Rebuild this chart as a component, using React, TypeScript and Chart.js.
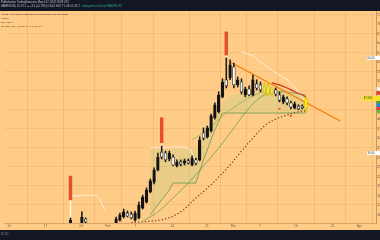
import React, { useEffect, useRef } from "react";
import { Chart, registerables } from "chart.js";

Chart.register(...registerables);

// ---- header / legend text ----
const HEADER_LINE_1 = "Published on TradingView.com, March 27, 2022 18:08 UTC";
const HEADER_LINE_2 = "WAVESUSD, 1D 47.2 \u25B2 +3.0 (+6.79%) O:44.2 H:47.7 L:43.0 C:47.2";
const HEADER_LINK = "tradingview.com/chart/WAVESUSD";
const SYMBOL_TITLE = "Waves / U.S. Dollar (calculated by TradingView), 1D, BINANCE";
const STUDY_LINES = ["Volume", "EMA (21, 9)", "ind_SMI_MTF_V21 20, 7, 1, 2, 20, 1, 1"];
const FOOTER_TEXT = "1D 5D";

// ---- daily candles (slot index on the time axis) ----
const CANDLE_IDX = [
  17, 20, 21,
  29, 30, 31, 32, 33, 34, 35, 36, 37, 38, 39, 40, 41, 42, 43, 44, 45, 46, 47, 48, 49, 50,
  51, 52, 53, 54, 55, 56, 57, 58, 59, 60, 61, 62, 63, 64, 65, 66, 67, 68, 69, 70, 71, 72,
  73, 74, 75, 76, 77, 78, 79,
];
const OPEN = [
  8.0, 8.0, 9.2, 8.0, 8.8, 9.8, 11.0, 10.7, 8.8, 9.5, 12.6, 14.5, 17.7, 20.8, 24.6, 30.3, 30.0,
  28.1, 28.7, 25.9, 27.2, 26.8, 27.5, 26.2, 27.8, 27.8, 36.3, 35.1, 37.0, 41.1, 43.0, 47.7, 53.1,
  53.7, 57.2, 51.5, 52.4, 48.3, 50.2, 48.3, 51.8, 51.5, 49.0, 51.2, 48.6, 49.9, 48.3, 46.1, 47.1,
  45.8, 44.2, 44.8, 44.8, 44.2,
];
const HIGH = [
  9.5, 11.4, 9.5, 9.8, 11.0, 12.3, 11.7, 11.4, 11.7, 14.5, 16.7, 19.0, 21.8, 25.3, 30.0, 32.2,
  30.6, 30.6, 29.4, 27.8, 27.8, 28.1, 28.1, 29.1, 28.4, 35.1, 37.9, 38.5, 42.3, 45.8, 49.3, 53.4,
  60.0, 59.4, 58.4, 54.0, 53.4, 50.8, 51.2, 54.6, 53.1, 52.4, 52.1, 52.4, 50.8, 50.5, 49.3, 48.3,
  47.7, 46.4, 46.1, 45.2, 45.2, 47.7,
];
const LOW = [
  8.0, 8.0, 8.0, 8.0, 8.5, 9.5, 9.8, 9.2, 8.5, 9.2, 12.3, 14.2, 17.4, 20.2, 24.3, 28.1, 27.2,
  27.5, 25.9, 25.6, 25.9, 26.2, 26.5, 25.9, 26.2, 27.5, 34.1, 34.7, 36.6, 40.7, 42.6, 47.4, 50.5,
  53.1, 50.5, 50.8, 48.6, 47.7, 48.0, 48.0, 49.9, 49.3, 48.3, 48.0, 48.0, 48.0, 46.1, 45.5, 45.2,
  43.9, 43.9, 43.6, 43.9, 43.0,
];
const CLOSE = [
  8.8, 9.8, 8.2, 9.2, 10.4, 11.4, 10.1, 9.5, 11.0, 13.6, 16.1, 18.3, 21.2, 24.6, 28.7, 28.7, 27.8,
  30.0, 26.2, 27.2, 26.5, 27.5, 26.8, 28.4, 26.8, 34.1, 34.7, 37.9, 41.7, 45.2, 48.3, 52.4, 51.2,
  57.8, 51.5, 53.1, 49.3, 50.2, 48.3, 53.1, 50.5, 49.9, 51.2, 48.6, 50.5, 48.6, 46.7, 47.7, 45.8,
  44.5, 45.5, 43.9, 44.2, 47.2,
];
// bars painted by the squeeze study
const HIGHLIGHT_IDX = [68, 69, 70, 79];

// pump markers above candles
const SPIKE_IDX = [17, 41, 58];
const SPIKE_LOW = [15.2, 33.2, 60.9];
const SPIKE_HIGH = [22.7, 41.1, 68.2];

// ---- overlay studies: [slot, price] ----
const BAND_UPPER: [number, number][] = [
  [38, 31.6], [50, 31.6], [53, 37.3], [56, 44.0], [59, 48.0], [64, 49.0], [68, 49.3], [72, 49.3], [76, 48.9], [79, 48.3],
];
const BAND_LOWER: [number, number][] = [
  [38, 10.5], [40, 13.6], [43, 18.3], [44, 20.5], [50, 20.5], [52, 27.8], [55, 37.3], [57, 42.6], [79, 42.6],
];
const EMA_SLOW: [number, number][] = [
  [36, 8.5], [40, 11.4], [44, 15.8], [48, 20.5], [52, 25.9], [56, 31.6], [60, 37.9], [64, 44.2], [68, 48.3], [72, 49.3], [76, 48.9], [79, 48.3],
];
const EMA_FAST: [number, number][] = [
  [49, 34.1], [53, 37.3], [57, 41.7], [61, 45.2], [65, 48.0], [68, 49.6],
];
const DOTTED: [number, number][] = [
  [33, 8.0], [38, 8.5], [42, 9.2], [46, 11.4], [50, 15.8], [53, 18.9], [56, 22.4], [59, 26.2],
  [62, 30.6], [65, 34.7], [68, 38.5], [71, 40.7], [74, 42.0], [77, 43.0], [79, 43.3],
];
const TRAIL: [number, number | null][] = [
  [17, 16.4], [24, 16.4], [26, 12.0], [27, null],
  [38, 31.6], [48, 31.6], [50, 27.0], [51, null],
  [62, 61.9], [65, 60.6], [68, 57.8], [71, 55.3], [74, 53.1], [77, 49.3], [79, 45.8],
];
const TREND_LINE: [number, number][] = [[59, 58.7], [88, 40.1]];
const RED_CURVE: [number, number][] = [[70, 52.1], [72, 51.5], [74, 50.5], [76, 49.3], [78, 48.3], [79, 47.7]];
const SIGNALS: [number, number][] = [[72, 43.9], [75, 41.7]];

// ---- axes ----
const TIME_TICK_POS = [0.8, 10.4, 19.8, 26.8, 34.1, 43.8, 52.9, 59.9, 66.9, 76.3, 86.0, 93.0];
const TIME_TICK_TEXT = ["10", "17", "24", "Feb", "7", "14", "21", "Mar", "7", "14", "21", "Apr"];
const PRICE_TICKS = [
  10.6, 13.6, 16.6, 19.6, 22.6, 25.6, 28.6, 31.6, 34.6, 37.6, 40.6, 43.6, 46.6, 49.6, 52.6, 55.6,
  58.6, 61.6, 64.6, 67.6, 70.6, 73.6,
];
// right-scale value tags of the studies
const TAG_VALUES = [50.2, 48.9, 46.0, 45.0, 44.0, 43.0];
const TAG_COLORS = ["#f4f4f4", "#e53935", "#43a047", "#1e88e5", "#e53935", "#7cb342"];
const LEVELS = [60.0, 30.0];
const LEVEL_TEXT = ["60.00", "30.00"];

const DARK = "#131722";
const PANEL = "#FFCC88";
const FONT = '"Liberation Sans", "DejaVu Sans", sans-serif';

const pts = (arr: [number, number | null][]) => arr.map(([x, y]) => ({ x, y }));

export default function App() {
  const ref = useRef<HTMLCanvasElement>(null);

  useEffect(() => {
    document.body.style.margin = "0";
    const canvas = ref.current;
    if (!canvas) return;

    const isHi = (x: number) => HIGHLIGHT_IDX.includes(x);
    const lastIdx = CANDLE_IDX.length - 1;

    const bodyFill = CANDLE_IDX.map((x, i) =>
      isHi(x) ? (i === lastIdx ? "#FFF200" : "#F3E347") : CLOSE[i] >= OPEN[i] ? "#111111" : "#FFFFFF"
    );
    const bodyBorder = CANDLE_IDX.map((x) => (isHi(x) ? "#C9B300" : "#1a1a1a"));
    const wickColor = CANDLE_IDX.map((x) => (isHi(x) ? "#D9C400" : "#1a1a1a"));

    const spikeStems = SPIKE_IDX.map((x, i) => {
      const k = CANDLE_IDX.indexOf(x);
      return { x, y: [HIGH[k], SPIKE_LOW[i]] };
    });

    const chrome = {
      id: "chrome",
      beforeDraw(chart: any) {
        const { ctx, width, height } = chart;
        ctx.save();
        ctx.fillStyle = PANEL;
        ctx.fillRect(0, 0, width, height);
        ctx.fillStyle = DARK;
        ctx.fillRect(0, 0, width, 11);
        ctx.fillRect(0, 230, width, height - 230);
        ctx.restore();
      },
      afterDraw(chart: any) {
        const { ctx, chartArea } = chart;
        const ys = chart.scales.y;
        const right = chartArea.right;
        ctx.save();
        ctx.textBaseline = "middle";
        ctx.font = `2.8px ${FONT}`;
        TAG_VALUES.forEach((v, i) => {
          const py = ys.getPixelForValue(v);
          ctx.fillStyle = TAG_COLORS[i];
          ctx.fillRect(right + 0.5, py - 1.7, 6, 3.4);
        });
        const last = CLOSE[lastIdx];
        const lp = ys.getPixelForValue(last);
        ctx.fillStyle = "#F7E32A";
        ctx.fillRect(right - 13, lp - 2.4, 19, 4.8);
        ctx.fillStyle = "#2b2b2b";
        ctx.fillText(last.toFixed(3), right - 12.3, lp + 0.2);
        LEVELS.forEach((v, i) => {
          const py = ys.getPixelForValue(v);
          ctx.fillStyle = "#FFFFFF";
          ctx.fillRect(right - 9, py - 2, 13, 4);
          ctx.fillStyle = "#333333";
          ctx.fillText(LEVEL_TEXT[i], right - 8.4, py + 0.2);
        });
        ctx.restore();
      },
    };

    const line = (data: any[], color: string, width: number, extra: any = {}) => ({
      type: "line",
      data,
      borderColor: color,
      borderWidth: width,
      pointRadius: 0,
      fill: false,
      tension: 0.35,
      ...extra,
    });

    const chart = new Chart(canvas, {
      type: "bar",
      data: {
        datasets: [
          // 0: cloud upper edge (fills down to dataset 1)
          line(pts(BAND_UPPER), "rgba(0,0,0,0)", 0, {
            fill: { target: 1 },
            backgroundColor: "rgba(196,206,128,0.38)",
            order: 20,
          }),
          // 1: cloud lower edge
          line(pts(BAND_LOWER), "#74A152", 0.9, { tension: 0, order: 19 }),
          line(pts(EMA_SLOW), "#64A05A", 0.8, { order: 18 }),
          line(pts(EMA_FAST), "#8CB266", 0.8, { order: 17 }),
          line(pts(DOTTED), "#7A3A28", 1.3, { borderDash: [1.2, 2.2], order: 16 }),
          line(pts(TRAIL), "rgba(255,255,255,0.85)", 0.8, { spanGaps: false, tension: 0.2, order: 15 }),
          line(pts(TREND_LINE), "#F57C00", 1.2, { tension: 0, order: 14 }),
          line(pts(RED_CURVE), "#C23A22", 1.2, { order: 13 }),
          {
            type: "bar",
            data: spikeStems,
            backgroundColor: "rgba(255,255,255,0.85)",
            barThickness: 0.8,
            grouped: false,
            borderSkipped: false,
            order: 12,
          },
          {
            type: "bar",
            data: SPIKE_IDX.map((x, i) => ({ x, y: [SPIKE_LOW[i], SPIKE_HIGH[i]] })),
            backgroundColor: "#E5502A",
            barThickness: 2.8,
            grouped: false,
            borderSkipped: false,
            order: 11,
          },
          {
            type: "bar",
            data: CANDLE_IDX.map((x, i) => ({ x, y: [LOW[i], HIGH[i]] })),
            backgroundColor: wickColor,
            barThickness: 0.9,
            grouped: false,
            borderSkipped: false,
            order: 10,
          },
          {
            type: "bar",
            data: CANDLE_IDX.map((x, i) => ({ x, y: [OPEN[i], CLOSE[i]] })),
            backgroundColor: bodyFill,
            borderColor: bodyBorder,
            borderWidth: 0.7,
            barThickness: 2.7,
            minBarLength: 1,
            grouped: false,
            borderSkipped: false,
            order: 9,
          },
          line(pts(SIGNALS), "#E8621E", 0, {
            showLine: false,
            pointRadius: 1.1,
            pointBackgroundColor: "#E8621E",
            pointBorderWidth: 0,
            order: 8,
          }),
        ] as any,
      },
      options: {
        responsive: false,
        animation: false,
        devicePixelRatio: 1,
        events: [],
        layout: { padding: { top: 11, bottom: 10, left: 0, right: 0 } },
        plugins: { legend: { display: false }, tooltip: { enabled: false } },
        scales: {
          x: {
            type: "linear",
            min: -0.5,
            max: 97.4,
            offset: false,
            afterFit: (s: any) => {
              s.height = 7;
            },
            afterBuildTicks: (s: any) => {
              s.ticks = TIME_TICK_POS.map((v) => ({ value: v }));
            },
            ticks: {
              autoSkip: false,
              maxRotation: 0,
              padding: 1,
              color: "#7a5a36",
              font: { size: 3.2, family: FONT },
              callback: (_v: any, i: number) => TIME_TICK_TEXT[i],
            },
            grid: { color: "rgba(190,120,50,0.28)", lineWidth: 0.7, drawTicks: false },
            border: { display: true, color: "rgba(150,100,50,0.55)", width: 0.7 },
          },
          y: {
            type: "linear",
            position: "right",
            min: 7.9,
            max: 74.8,
            afterFit: (s: any) => {
              s.width = 4;
            },
            afterBuildTicks: (s: any) => {
              s.ticks = PRICE_TICKS.map((v) => ({ value: v }));
            },
            ticks: {
              padding: 1,
              color: "#6b4e2e",
              font: { size: 4, family: FONT },
              callback: (v: any) => Number(v).toFixed(2),
            },
            grid: {
              color: (c: any) => (c.index % 2 === 1 ? "rgba(190,120,50,0.18)" : "rgba(0,0,0,0)"),
              lineWidth: 0.7,
              drawTicks: false,
            },
            border: { display: true, color: "rgba(120,80,40,0.6)", width: 0.7 },
          },
        },
      } as any,
      plugins: [chrome],
    });

    return () => chart.destroy();
  }, []);

  const small = (size: number, color: string): React.CSSProperties => ({
    position: "absolute",
    left: 1,
    fontFamily: FONT,
    fontSize: size,
    lineHeight: 1,
    color,
    whiteSpace: "nowrap",
  });

  return (
    <div style={{ position: "relative", width: 380, height: 240, overflow: "hidden", background: DARK }}>
      <canvas ref={ref} width={380} height={240} style={{ display: "block", width: 380, height: 240 }} />
      <div style={{ ...small(2.6, "#c9ccd4"), top: 1.5 }}>{HEADER_LINE_1}</div>
      <div style={{ ...small(2.6, "#c9ccd4"), top: 5.5 }}>
        {HEADER_LINE_2}
        <span style={{ color: "#26a69a", marginLeft: 2 }}>{HEADER_LINK}</span>
      </div>
      <div style={{ ...small(2.4, "#2a1e12"), top: 13.5 }}>{SYMBOL_TITLE}</div>
      {STUDY_LINES.map((t, i) => (
        <div key={t} style={{ ...small(2.4, "#3a2a18"), top: 17.5 + i * 4 }}>
          {t}
        </div>
      ))}
      <div style={{ ...small(2.6, "#9598a1"), top: 234 }}>{FOOTER_TEXT}</div>
    </div>
  );
}
